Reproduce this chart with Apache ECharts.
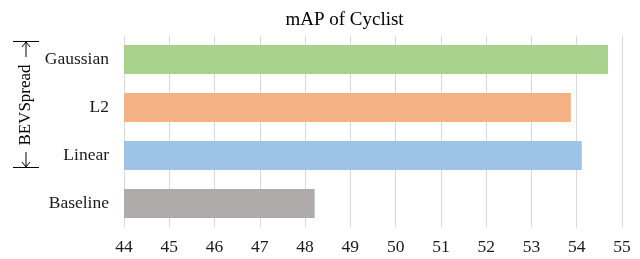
<!DOCTYPE html>
<html>
<head>
<meta charset="utf-8">
<script src="https://cdn.jsdelivr.net/npm/echarts@6/dist/echarts.min.js"></script>
<style>
  html, body { margin: 0; padding: 0; background: #fff; }
  #chart { width: 640px; height: 259px; }
</style>
</head>
<body>
<div id="chart"></div>
<script>
// data
const categories = ['Baseline', 'Linear', 'L2', 'Gaussian'];
const mapValues = [48.21, 54.11, 53.87, 54.69];
const barColors = ['#afabab', '#9dc3e6', '#f4b183', '#a9d18e'];
const groupLabel = 'BEVSpread';
const titleText = 'mAP of Cyclist';

const font = '"Liberation Serif", "Times New Roman", serif';

const chart = echarts.init(document.getElementById('chart'));

// bracket on the left with arrows
const lineStyle = { stroke: '#000', lineWidth: 1 };
const bracket = [
  { type: 'line', shape: { x1: 13, y1: 41.5, x2: 39, y2: 41.5 }, style: lineStyle },
  { type: 'line', shape: { x1: 13, y1: 167.5, x2: 39, y2: 167.5 }, style: lineStyle },
  { type: 'line', shape: { x1: 26, y1: 42, x2: 26, y2: 57 }, style: lineStyle },
  { type: 'polyline', shape: { points: [[22, 47], [26, 42], [30, 47]] }, style: { stroke: '#000', lineWidth: 1, fill: null } },
  { type: 'line', shape: { x1: 26, y1: 152, x2: 26, y2: 167 }, style: lineStyle },
  { type: 'polyline', shape: { points: [[22, 162], [26, 167], [30, 162]] }, style: { stroke: '#000', lineWidth: 1, fill: null } },
  {
    type: 'text',
    x: 26, y: 105,
    rotation: Math.PI / 2,
    style: {
      text: groupLabel,
      font: '17px ' + font,
      fill: '#000',
      align: 'center',
      verticalAlign: 'middle'
    }
  }
];

const option = {
  animation: false,
  title: {
    text: titleText,
    left: 339.5,
    top: 6,
    textAlign: 'center',
    textStyle: { fontFamily: font, fontSize: 19, fontWeight: 'normal', color: '#000' }
  },
  grid: { left: 124, right: 18, top: 35.5, bottom: 31.5, containLabel: false },
  xAxis: {
    type: 'value',
    min: 44,
    max: 55,
    interval: 1,
    axisLine: { show: false },
    axisTick: { show: false },
    splitLine: { show: true, lineStyle: { color: '#d9d9d9', width: 1 } },
    axisLabel: { fontFamily: font, fontSize: 17.5, color: '#1a1a1a', margin: 11 }
  },
  yAxis: {
    type: 'category',
    data: categories,
    axisLine: { show: false },
    axisTick: { show: false },
    axisLabel: { fontFamily: font, fontSize: 17.5, color: '#1a1a1a', margin: 15 }
  },
  series: [{
    type: 'bar',
    barWidth: 29,
    data: mapValues.map((v, i) => ({ value: v, itemStyle: { color: barColors[i] } }))
  }],
  graphic: bracket
};

chart.setOption(option);
</script>
</body>
</html>
